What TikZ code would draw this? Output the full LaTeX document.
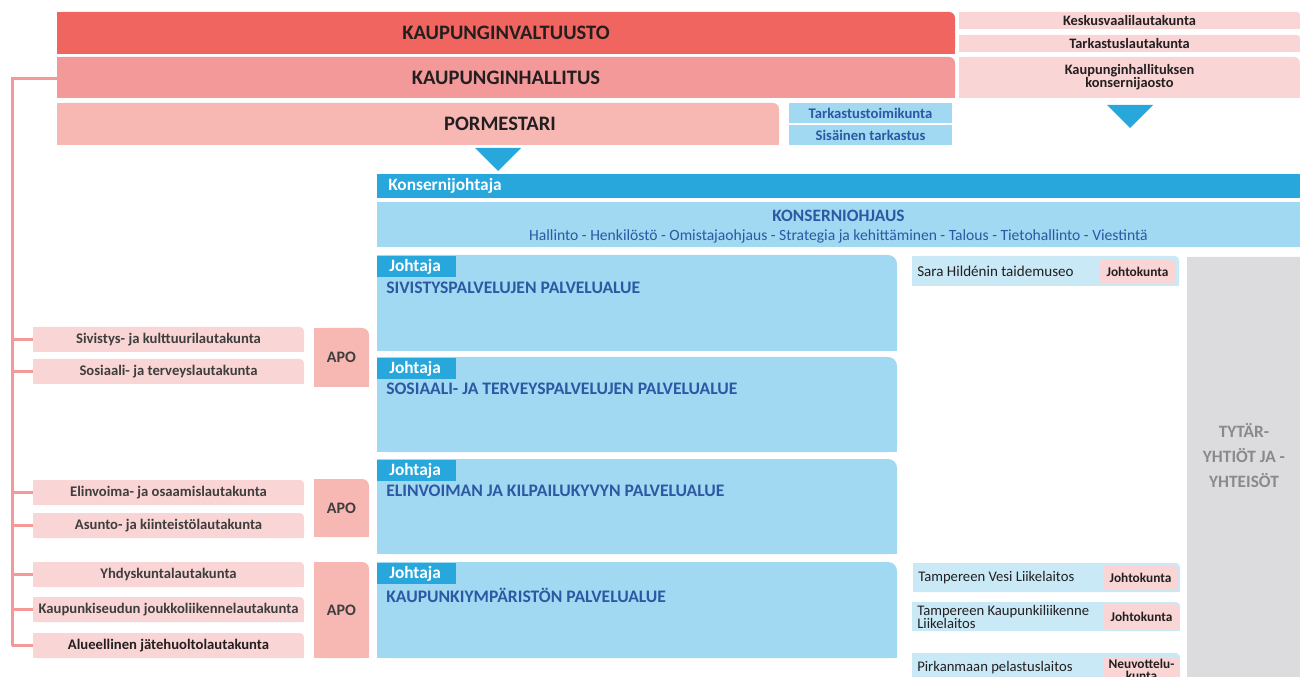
\documentclass[tikz,border=0pt]{standalone}
\usepackage{fontspec}
\setmainfont{Carlito}
\usetikzlibrary{calc}
\definecolor{cRed}{HTML}{F06560}
\definecolor{cMid}{HTML}{F3999A}
\definecolor{cLight}{HTML}{F7B7B3}
\definecolor{cPale}{HTML}{FAD5D5}
\definecolor{cBlue}{HTML}{27A7DB}
\definecolor{cLB}{HTML}{A0D9F1}
\definecolor{cPB}{HTML}{C9E9F6}
\definecolor{cGrey}{HTML}{DCDCDE}
\definecolor{cDB}{HTML}{2D58A3}
\definecolor{cTxt}{HTML}{231F20}
\definecolor{cTxt2}{HTML}{3E3E3E}
\definecolor{cGT}{HTML}{8A8A8C}
\newcommand\BX[9]{%
  \fill[#6,rounded corners=#7*0.75pt] (#2,#3) rectangle ({#2+#4},{#3+#5});
  \fill[#6] (#2,{#3+#7}) rectangle ({#2+#4},{#3+#5});
  \fill[#6] (#2,#3) rectangle ({#2+#4-#7},{#3+#5});
  \node[inner sep=0,outer sep=0,anchor=north west,minimum width=#4*0.75pt,minimum height=#5*0.75pt,#8] (#1) at (#2,#3) {#9};
}
\tikzset{
  top/.style={font=\bfseries\fontsize{15.4}{17}\selectfont,text=cTxt},
  small/.style={font=\bfseries\fontsize{10.8}{9.5}\selectfont,text=cTxt,align=center},
  blueb/.style={font=\bfseries\fontsize{11}{12}\selectfont,text=cDB},
  comm/.style={font=\bfseries\fontsize{11}{12}\selectfont,text=cTxt2},
  apo/.style={font=\bfseries\fontsize{12}{14}\selectfont,text=cTxt2},
  svc/.style={font=\bfseries\fontsize{13.2}{14}\selectfont,text=cDB,inner sep=0,anchor=west},
  joht/.style={font=\bfseries\fontsize{13}{14}\selectfont,text=white,inner sep=0,anchor=west},
  reg/.style={font=\fontsize{11}{9.5}\selectfont,text=cTxt,inner sep=0,anchor=west,align=left},
  badge/.style={font=\bfseries\fontsize{10}{8.5}\selectfont,text=cTxt,align=center},
  bus/.style={draw=cMid,line width=2.25pt},
}
\begin{document}
\begin{tikzpicture}[x=0.75pt,y=-0.75pt]
\useasboundingbox (0,0) rectangle (1300,677);
% top governance
\BX{kv}{57}{12}{898}{42}{cRed}{6}{top}{KAUPUNGINVALTUUSTO}
\BX{kh}{57}{57}{898}{41}{cMid}{6}{top}{KAUPUNGINHALLITUS}
\BX{pm}{57}{103}{722}{42}{cLight}{6}{}{}
\node[top,inner sep=0] (pmt) at (500,124) {PORMESTARI};
\BX{tt}{789}{103}{163}{20}{cLB}{0}{blueb}{Tarkastustoimikunta}
\BX{st}{789}{125}{163}{20}{cLB}{0}{blueb}{Sisäinen tarkastus}
\BX{kvl}{959}{12}{341}{17}{cPale}{3}{small}{Keskusvaalilautakunta}
\BX{tl}{959}{35}{341}{17}{cPale}{3}{small}{Tarkastuslautakunta}
\BX{khk}{959}{57}{341}{41}{cPale}{6}{small}{Kaupunginhallituksen\\konsernijaosto}
% triangles
\fill[cBlue] (475,148) -- (521,148) -- (498,171) -- cycle;
\fill[cBlue] (1107,105) -- (1153,105) -- (1130,128) -- cycle;
% konserni
\BX{kj}{377}{174}{923}{24}{cBlue}{0}{}{}
\node[joht] (kjt) at (388,186) {Konsernijohtaja};
\BX{ko}{377}{202}{923}{45}{cLB}{0}{}{}
\node[font=\bfseries\fontsize{13}{14}\selectfont,text=cDB,inner sep=0] (kot) at (838.5,216) {KONSERNIOHJAUS};
\node[font=\fontsize{11.7}{13}\selectfont,text=cDB,inner sep=0] (kos) at (838.5,236) {Hallinto - Henkilöstö - Omistajaohjaus - Strategia ja kehittäminen - Talous - Tietohallinto - Viestintä};
% service areas
\BX{sa1}{377}{255}{520}{96}{cLB}{9}{}{}
\BX{sa2}{377}{357}{520}{95}{cLB}{9}{}{}
\BX{sa3}{377}{459}{520}{95}{cLB}{9}{}{}
\BX{sa4}{377}{562}{520}{96}{cLB}{9}{}{}
\BX{j1}{377}{256}{79}{21}{cBlue}{0}{}{}
\BX{j2}{377}{358}{79}{21}{cBlue}{0}{}{}
\BX{j3}{377}{460}{79}{21}{cBlue}{0}{}{}
\BX{j4}{377}{563}{79}{21}{cBlue}{0}{}{}
\node[joht] (j1t) at (389,267) {Johtaja};
\node[joht] (j2t) at (389,369) {Johtaja};
\node[joht] (j3t) at (389,471) {Johtaja};
\node[joht] (j4t) at (389,574) {Johtaja};
\node[svc] (s1) at (386,288) {SIVISTYSPALVELUJEN PALVELUALUE};
\node[svc] (s2) at (386,389) {SOSIAALI- JA TERVEYSPALVELUJEN PALVELUALUE};
\node[svc] (s3) at (386,491) {ELINVOIMAN JA KILPAILUKYVYN PALVELUALUE};
\node[svc] (s4) at (386,595) {KAUPUNKIYMPÄRISTÖN PALVELUALUE};
% committees
\BX{c1}{33}{327}{271}{25}{cPale}{4}{comm}{Sivistys- ja kulttuurilautakunta}
\BX{c2}{33}{359}{271}{25}{cPale}{4}{comm}{Sosiaali- ja terveyslautakunta}
\BX{c3}{33}{480}{271}{25}{cPale}{4}{comm}{Elinvoima- ja osaamislautakunta}
\BX{c4}{33}{513}{271}{25}{cPale}{4}{comm}{Asunto- ja kiinteistölautakunta}
\BX{c5}{33}{562}{271}{25}{cPale}{4}{comm}{Yhdyskuntalautakunta}
\BX{c6}{33}{597}{271}{25}{cPale}{4}{comm}{Kaupunkiseudun joukkoliikennelautakunta}
\BX{c7}{33}{633}{271}{25}{cPale}{4}{comm,text=cTxt}{Alueellinen jätehuoltolautakunta}
\BX{a1}{314}{328}{55}{59}{cLight}{7}{apo}{APO}
\BX{a2}{314}{479}{55}{58}{cLight}{7}{apo}{APO}
\BX{a3}{314}{562}{55}{96}{cLight}{7}{apo}{APO}
% bus line
\coordinate (bus) at (12,79);
\draw[bus] (kh.west |- bus) -- (bus) -- (bus |- c7.west);
\foreach \c in {c1,c2,c3,c4,c5,c6,c7} \draw[bus] (\c.west -| bus) -- (\c.west);
% right side
\BX{gr}{1187}{257}{120}{430}{cGrey}{5}{}{}
\node[font=\bfseries\fontsize{13}{18.75}\selectfont,text=cGT,align=center,inner sep=0] (gt) at (1244,456) {TYTÄR-\\YHTIÖT JA -\\YHTEISÖT};
\BX{r1}{912}{256}{267}{30}{cPB}{4}{}{}
\node[reg,font=\fontsize{11.3}{12}\selectfont] (r1t) at (917,271) {Sara Hildénin taidemuseo};
\BX{b1}{1100}{260}{75}{24}{cPale}{4}{badge}{Johtokunta}
\BX{r2}{913}{563}{267}{29}{cPB}{4}{}{}
\node[reg] (r2t) at (918,578) {Tampereen Vesi Liikelaitos};
\BX{b2}{1103}{566}{75}{24}{cPale}{4}{badge}{Johtokunta}
\BX{r3}{912}{602}{268}{29}{cPB}{4}{}{}
\node[reg] (r3t) at (917,617) {Tampereen Kaupunkiliikenne\\Liikelaitos};
\BX{b3}{1104}{604}{75}{25}{cPale}{4}{badge}{Johtokunta}
\BX{r4}{912}{653}{268}{30}{cPB}{4}{}{}
\node[reg] (r4t) at (917,668) {Pirkanmaan pelastuslaitos};
\BX{b4}{1104}{657}{75}{26}{cPale}{4}{badge}{Neuvottelu-\\kunta}
\end{tikzpicture}
\end{document}
